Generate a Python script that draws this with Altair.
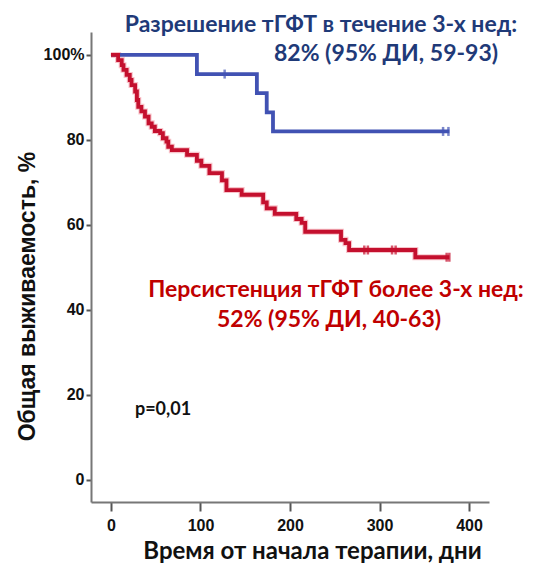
import altair as alt
import pandas as pd

# Kaplan-Meier curves (days, survival %)
blue_days = [0, 96, 163, 174, 181, 378]
blue_surv = [100, 95.5, 91.0, 86.5, 82.0, 82.0]

red_days = [0, 8, 12, 14, 17.5, 21, 23, 27, 29, 30.5, 34, 38, 42, 45.5, 49, 55, 58, 62, 64, 68,
            85, 96, 101, 110, 124, 129, 146, 170, 174, 183, 207, 213, 217, 257, 262, 266, 340, 378]
red_surv = [100, 98.8, 97.6, 96.5, 95.3, 94.1, 92.9, 91.4, 89.4, 87.8, 86.7, 85.5, 83.9, 83.1, 82.1,
            81.6, 80.4, 79.6, 78.4, 77.6, 76.5, 75.1, 73.9, 72.2, 70.5, 68.2, 67.1, 65.3, 63.9, 62.6,
            61.4, 60.5, 58.4, 56.5, 55.7, 54.1, 52.4, 52.4]

# censored observations
blue_cens_days = [127, 371, 377]
blue_cens_surv = [95.5, 82.0, 82.0]
red_cens_days = [283, 287, 314, 318, 375, 378]
red_cens_surv = [54.1, 54.1, 54.1, 54.1, 52.4, 52.4]

groups = ["blue", "red"]
colors = ["#4152b3", "#c4102e"]

x_ticks = [0, 100, 200, 300, 400]
y_ticks = [0, 20, 40, 60, 80, 100]

lines = pd.DataFrame(
    [{"day": d, "surv": s, "grp": "blue", "ord": i} for i, (d, s) in enumerate(zip(blue_days, blue_surv))]
    + [{"day": d, "surv": s, "grp": "red", "ord": i} for i, (d, s) in enumerate(zip(red_days, red_surv))]
)
cens = pd.DataFrame(
    [{"day": d, "surv": s, "grp": "blue"} for d, s in zip(blue_cens_days, blue_cens_surv)]
    + [{"day": d, "surv": s, "grp": "red"} for d, s in zip(red_cens_days, red_cens_surv)]
)

x_scale = alt.Scale(domain=[-22.3, 422.3], nice=False, zero=False)
y_scale = alt.Scale(domain=[-5.2, 105.4], nice=False, zero=False)
color_scale = alt.Scale(domain=groups, range=colors)

x_axis = alt.Axis(
    values=x_ticks, title="Время от начала терапии, дни",
    titleFont="Lato", titleFontSize=24, titleFontWeight="bold", titleColor="#111111",
    titleX=221, titleY=56, titleAlign="center", titleBaseline="alphabetic",
    labelFont="Liberation Sans", labelFontSize=16, labelFontWeight="bold", labelColor="#111111",
    labelPadding=6, tickSize=9, tickWidth=2, tickColor="#555555",
    domainColor="#777777", domainWidth=2, grid=False, labelFlush=False,
)
y_axis = alt.Axis(
    values=y_ticks, title="Общая выживаемость, %",
    labelExpr="datum.value == 100 ? '100%' : datum.label",
    titleFont="Liberation Sans", titleFontSize=23, titleFontWeight="bold", titleColor="#111111",
    titleX=-64, titleY=264, titleAngle=-90, titleAlign="center", titleBaseline="middle",
    labelFont="Liberation Sans", labelFontSize=16, labelFontWeight="bold", labelColor="#111111",
    labelPadding=2, tickSize=5, tickWidth=2, tickColor="#555555",
    domainColor="#777777", domainWidth=2, grid=False, labelFlush=False,
)

base = alt.Chart(lines).encode(
    x=alt.X("day:Q", scale=x_scale, axis=x_axis),
    y=alt.Y("surv:Q", scale=y_scale, axis=y_axis),
    order="ord:Q",
)

halo = base.transform_filter(alt.datum.grp == "red").mark_line(
    interpolate="step-after", strokeWidth=6, color="#f07a8a", opacity=0.45
)
curves = base.mark_line(interpolate="step-after", strokeWidth=3.8).encode(
    color=alt.Color("grp:N", scale=color_scale, legend=None)
)
ticks = alt.Chart(cens).mark_tick(orient="vertical", size=9, thickness=2.5).encode(
    x=alt.X("day:Q", scale=x_scale),
    y=alt.Y("surv:Q", scale=y_scale),
    color=alt.Color("grp:N", scale=color_scale, legend=None),
)

def label(txt, x, y, size, color, font="Lato"):
    return alt.Chart(pd.DataFrame({"t": [txt]})).mark_text(
        font=font, fontSize=size, fontWeight="bold", color=color,
        align="center", baseline="alphabetic",
    ).encode(text="t:N", x=alt.value(x), y=alt.value(y))

blue_txt = "#1f3a78"
red_txt = "#c00000"
texts = [
    label("Разрешение тГФТ в течение 3-х нед:", 230, 0, 23, blue_txt),
    label("82% (95% ДИ, 59-93)", 295, 29, 23, blue_txt),
    label("Персистенция тГФТ более 3-х нед:", 245, 265, 23, red_txt),
    label("52% (95% ДИ, 40-63)", 238, 295, 23, red_txt),
    label("p=0,01", 72, 383, 18, "#111111"),
]

chart = alt.layer(halo, curves, ticks, *texts).properties(
    width=398, height=470,
    autosize=alt.AutoSizeParams(type="none"),
    padding={"left": 91, "top": 32, "right": 47, "bottom": 71},
    background="white",
).configure_view(stroke=None)

chart.save("out.html", embed_options={"renderer": "svg", "actions": False})
